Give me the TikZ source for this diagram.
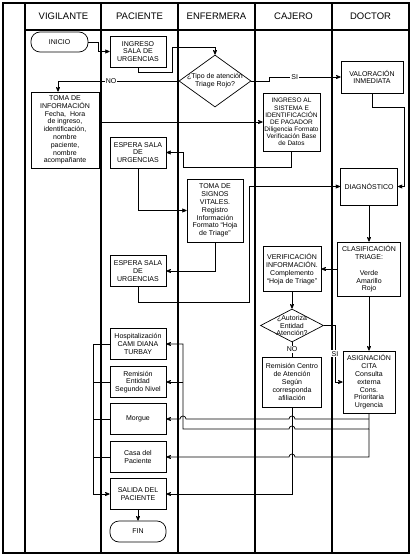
\documentclass[tikz,border=0pt]{standalone}
\usepackage{fontspec}
\setmainfont{Liberation Sans}
\usetikzlibrary{arrows, positioning, shapes.geometric}

\begin{document}
\begin{tikzpicture}[>=stealth', x=1pt, y=-1pt]
  \tikzset{
   lane/.style={line width=1.1pt},
   head/.style={font=\fontsize{9.5}{11}\selectfont},
   box/.style={draw, line width=.7pt, fill=white, align=center, inner sep=1pt,
    minimum width=56pt, minimum height=31pt, font=\fontsize{7}{7.8}\selectfont},
   small/.style={box, font=\fontsize{6.5}{7.1}\selectfont},
   term/.style={box, rounded corners=9pt, minimum height=20pt},
   decision/.style={draw, line width=.7pt, fill=white, diamond, inner sep=0pt,
    label={[align=center, font=\fontsize{7}{7.8}\selectfont]center:{#1}}},
   flow/.style={->, line width=.7pt},
   link/.style={line width=.7pt},
   tag/.style={fill=white, inner sep=1pt, font=\fontsize{7}{8}\selectfont},
  }
  \useasboundingbox (0,0) rectangle (413,556);

  % lanes
  \draw[lane] (3,3) rectangle (409,553);
  \draw[lane] (25,30) -- (409,30);
  \foreach \name/\x [count=\i] in {
   VIGILANTE/25,
   PACIENTE/101,
   ENFERMERA/178,
   CAJERO/255,
   DOCTOR/332
  } {
   \draw[lane] (\x,3) -- (\x,553);
   \node[head] (h\i) at (\x+38.5,16.5) {\name};
  }

  % steps
  \node[term, minimum width=57pt] (inicio) at (59.5,42) {INICIO};
  \node[box] (ingreso) at (138,51.5) {INGRESO\\SALA DE\\URGENCIAS};
  \node[decision={¿Tipo de atención\\Triage Rojo?}, minimum width=72pt, minimum height=52pt] (tipo) at (215,81) {};
  \node[box, minimum width=62pt, minimum height=32pt] (valor) at (372,77) {VALORACIÓN\\INMEDIATA};
  \node[box, minimum width=68pt, minimum height=76pt] (tomainfo) at (65,130)
   {TOMA DE\\INFORMACIÓN\\Fecha,\ \ Hora\\de ingreso,\\identificación,\\nombre\\paciente,\\nombre\\acompañante};
  \node[small, minimum width=57pt, minimum height=58pt] (sistema) at (291.5,122)
   {INGRESO AL\\SISTEMA E\\IDENTIFICACIÓN\\DE PAGADOR\\Diligencia Formato\\Verificación Base\\de Datos};
  \node[box] (espera1) at (138,152.5) {ESPERA SALA\\DE\\URGENCIAS};
  \node[box, minimum height=63pt] (signos) at (215,210.5)
   {TOMA DE\\SIGNOS\\VITALES.\\Registro\\Información\\Formato “Hoja\\de Triage”};
  \node[box] (espera2) at (138,271) {ESPERA SALA\\DE\\URGENCIAS};
  \node[box, minimum width=57pt, minimum height=37pt] (diag) at (369,186.5) {DIAGNÓSTICO};
  \node[box, minimum width=63pt, minimum height=54pt] (clasif) at (369,269)
   {CLASIFICACIÓN\\TRIAGE:\\[7.8pt]Verde\\Amarillo\\Rojo};
  \node[box, minimum width=58pt, minimum height=45pt] (verif) at (292,269)
   {VERIFICACIÓN\\INFORMACIÓN.\\Complemento\\“Hoja de Triage”};
  \node[decision={¿Autoriza\\Entidad\\Atención?}, minimum width=63pt, minimum height=33pt] (autoriza) at (292,325.5) {};
  \node[box, minimum width=59pt, minimum height=50pt] (remcentro) at (292,382)
   {Remisión Centro\\de Atención\\Según\\corresponda\\afiliación};
  \node[box, minimum width=52pt, minimum height=62pt] (asig) at (369,382)
   {ASIGNACIÓN\\CITA\\Consulta\\externa\\Cons.\\Prioritaria\\Urgencia};
  \node[box] (hosp) at (138,344) {Hospitalización\\CAMI DIANA\\TURBAY};
  \node[box] (rement) at (138,382) {Remisión\\Entidad\\Segundo Nivel};
  \node[box] (morgue) at (138,419) {Morgue};
  \node[box] (casa) at (138,457) {Casa del\\Paciente};
  \node[box] (salida) at (138,494) {SALIDA DEL\\PACIENTE};
  \node[term, minimum height=21pt] (fin) at (138,531.5) {FIN};

  % connectors
  \draw[flow] (inicio.east) -- (98,42) |- (ingreso.west);
  \draw[flow] (ingreso.south) -- (138,72) -| (172,47) -| (tipo.north);
  \draw[flow] (tipo.west) -| node[tag, pos=.28] {NO} ([xshift=-7pt]tomainfo.north);
  \draw[flow] (tipo.east) -- (269,81) |- node[tag, pos=.68] {SI} (valor.west);
  \draw[flow] (valor.south) -- (372,107) -| (404,186.5) -- (diag.east);
  \draw[flow] (tomainfo.east) -- ++(2,0) |- (sistema.west);
  \draw[flow] (sistema.south) -- (291.5,167) -| (183,152.5) -- (espera1.east);
  \draw[flow] (espera1.south) |- (signos.west);
  \draw[flow] (signos.south) |- (espera2.east);
  \draw[flow] (espera2.south) -- (138,302) -| (249,186.5) -- (diag.west);
  \draw[flow] (diag.south) -- (clasif.north);
  \draw[flow] (clasif.west) -- (verif.east);
  \draw[flow] (verif.south) -- (autoriza.north);
  \draw[link] (autoriza.south) -- node[tag] {NO} (remcentro.north);
  \draw[flow] (autoriza.east) -- (335,325.5) |- node[tag, pos=.25] {SI} (asig.west);
  \draw[flow] (clasif.south) -- (asig.north);

  \draw[flow] (asig.south) -- (369,429) -- (295,429) arc (0:-180:3) -- (183,429) |- (hosp.east);
  \draw[flow] (183,382) -- (rement.east);
  \draw[flow] (369,419) -- (295,419) arc (0:-180:3) -- (186,419) arc (0:-180:3) -- (morgue.east);
  \draw[flow] (369,429) -- (369,457) -- (295,457) arc (0:-180:3) -- (casa.east);
  \draw[flow] (remcentro.south) |- (salida.east);

  \coordinate (bus) at (93,494);
  \foreach \b in {rement, morgue, casa} {
   \draw[link] (\b.west) -- (\b.west -| bus);
  }
  \draw[flow] (hosp.west) -| (bus) -- (salida.west);
  \draw[flow] (salida.south) -- (fin.north);
\end{tikzpicture}
\end{document}
